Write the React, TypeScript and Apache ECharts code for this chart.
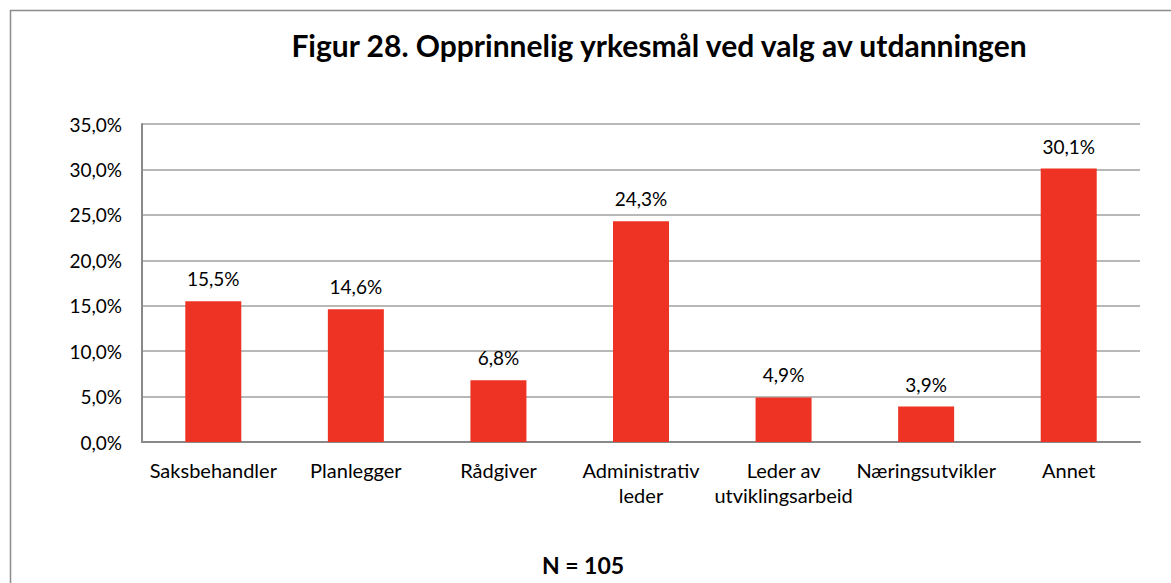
import React, { useEffect, useRef } from "react";
import * as echarts from "echarts";

const categories = [
  "Saksbehandler",
  "Planlegger",
  "Rådgiver",
  "Administrativ\nleder",
  "Leder av\nutviklingsarbeid",
  "Næringsutvikler",
  "Annet",
];
const values = [15.5, 14.6, 6.8, 24.3, 4.9, 3.9, 30.1];
const titleText = "Figur 28. Opprinnelig yrkesmål ved valg av utdanningen";
const footnote = "N = 105";

const FONT = "Lato";

export default function App() {
  const ref = useRef<HTMLDivElement>(null);
  useEffect(() => {
    if (!ref.current) return;
    const chart = echarts.init(ref.current, null, { renderer: "svg" });
    const fmt = (v: number) => v.toFixed(1).replace(".", ",") + "%";
    chart.setOption({
      animation: false,
      backgroundColor: "#ffffff",
      textStyle: { fontFamily: FONT },
      title: {
        text: titleText,
        left: 654,
        top: 25,
        textAlign: "center",
        textStyle: { fontFamily: FONT, fontWeight: "bold", fontSize: 30, color: "#000" },
      },
      graphic: [
        {
          type: "rect",
          shape: { x: 10.5, y: 10.5, width: 1180, height: 600 },
          style: { fill: "none", stroke: "#8c8c8c", lineWidth: 1.5 },
          z: -1,
        },
        {
          type: "text",
          x: 583,
          y: 565,
          style: {
            text: footnote,
            fontFamily: FONT,
            fontWeight: "bold",
            fontSize: 23,
            fill: "#000",
            align: "center",
            verticalAlign: "middle",
          },
        },
      ],
      grid: { left: 142, right: 31, top: 124, bottom: 141, containLabel: false },
      xAxis: {
        type: "category",
        data: categories,
        axisLine: { lineStyle: { color: "#898989", width: 2 } },
        axisTick: { show: false },
        axisLabel: {
          interval: 0,
          color: "#000",
          fontFamily: FONT,
          fontSize: 20,
          lineHeight: 25,
          margin: 15,
        },
      },
      yAxis: {
        type: "value",
        min: 0,
        max: 35,
        interval: 5,
        axisLine: { show: true, lineStyle: { color: "#898989", width: 2 } },
        axisTick: { show: false },
        splitLine: { lineStyle: { color: "#a0a0a0", width: 1.5 } },
        axisLabel: {
          color: "#000",
          fontFamily: FONT,
          fontSize: 19,
          margin: 20,
          formatter: (v: number) => fmt(v),
        },
      },
      series: [
        {
          type: "bar",
          data: values,
          barWidth: 56,
          itemStyle: { color: "#EE3325" },
          label: {
            show: true,
            position: "top",
            distance: 13,
            color: "#000",
            fontFamily: FONT,
            fontSize: 19,
            formatter: (p: any) => fmt(p.value),
          },
        },
      ],
    });
    return () => chart.dispose();
  }, []);
  return (
    <div
      ref={ref}
      style={{ position: "fixed", left: 0, top: 0, width: 1171, height: 583 }}
    />
  );
}
